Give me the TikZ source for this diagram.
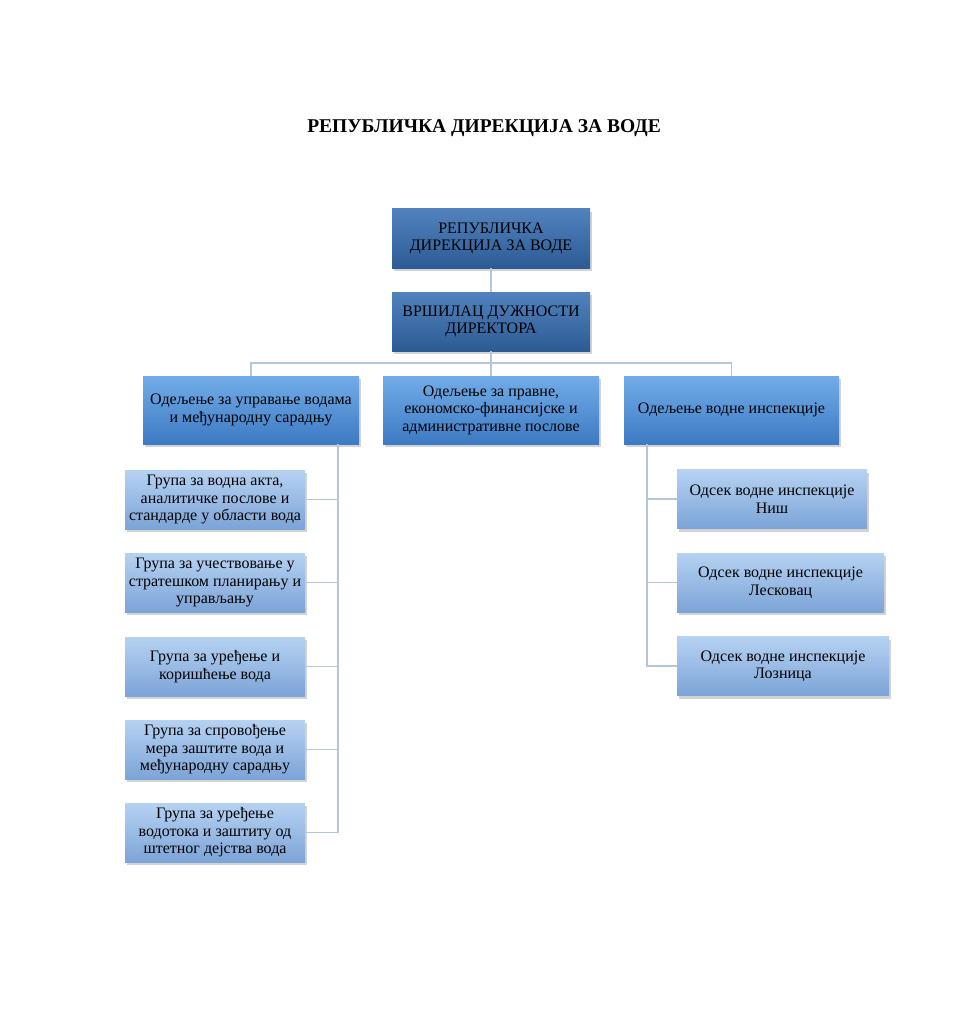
\documentclass[tikz,border=0pt]{standalone}
\usepackage{fontspec}
\setmainfont{Liberation Serif}
\usetikzlibrary{shadows}
\definecolor{lineblue}{HTML}{B4C6DA}
\definecolor{darktop}{HTML}{5282BE}
\definecolor{darkbot}{HTML}{2C5B94}
\definecolor{midtop}{HTML}{72ACE8}
\definecolor{midbot}{HTML}{3D7AC3}
\definecolor{lighttop}{HTML}{B6D2F2}
\definecolor{lightbot}{HTML}{7CA4D7}
\begin{document}
\begin{tikzpicture}
[x=1pt,y=-1pt,
box/.style = {rectangle, align=center, inner sep=0pt, font=\fontsize{16}{17.5}\selectfont,
  drop shadow={shadow xshift=1.5pt, shadow yshift=-3pt, opacity=0.35}},
topbox/.style = {box, top color=darktop, bottom color=darkbot, minimum width=198pt, minimum height=59pt},
depbox/.style = {box, top color=midtop, bottom color=midbot, minimum width=216pt, minimum height=68pt},
grpbox/.style = {box, top color=lighttop, bottom color=lightbot, minimum height=59pt},
conn/.style = {draw=lineblue, line width=1.2pt},]
\useasboundingbox (0,0) rectangle (967,1024);
\node (T) at (484,128) {\fontsize{19.5}{23}\selectfont\bfseries РЕПУБЛИЧКА ДИРЕКЦИЈА ЗА ВОДЕ};
\node (dir) at (491,238.5)[topbox] {РЕПУБЛИЧКА\\ДИРЕКЦИЈА ЗА ВОДЕ};
\node (vd) at (491,321.5)[topbox] {ВРШИЛАЦ ДУЖНОСТИ\\ДИРЕКТОРА};
\node (odU) at (251,410)[depbox] {Одељење за управање водама\\и међународну сарадњу};
\node (odP) at (491,410)[depbox] {Одељење за правне,\\економско-финансијске и\\административне послове};
\node (odI) at (731.5,410)[depbox,minimum width=215pt] {Одељење водне инспекције};
\node (g1) at (215,499.5)[grpbox,minimum width=180pt] {Група за водна акта,\\аналитичке послове и\\стандарде у области вода};
\node (g2) at (215,582.5)[grpbox,minimum width=180pt] {Група за учествовање у\\стратешком планирању и\\управљању};
\node (g3) at (215,666.5)[grpbox,minimum width=180pt] {Група за уређење и\\коришћење вода};
\node (g4) at (215,749.5)[grpbox,minimum width=180pt] {Група за спровођење\\мера заштите вода и\\међународну сарадњу};
\node (g5) at (215,832.5)[grpbox,minimum width=180pt] {Група за уређење\\водотока и заштиту од\\штетног дејства вода};
\node (o1) at (772,499)[grpbox,minimum width=190pt] {Одсек водне инспекције\\Ниш};
\node (o2) at (780.5,582.5)[grpbox,minimum width=207pt] {Одсек водне инспекције\\Лесковац};
\node (o3) at (783,666)[grpbox,minimum width=212pt] {Одсек водне инспекције\\Лозница};
\coordinate (bus) at (491,363);
\coordinate (lt) at (338,444);
\coordinate (rt) at (647,444);
\draw[conn] (dir)--(vd);
\draw[conn] (vd)--(odP);
\draw[conn] (odU.north) |- (bus) -| (odI.north);
\draw[conn] (lt) |- (g5.east);
\draw[conn] (g1.east)--(g1.east -| lt);
\draw[conn] (g2.east)--(g2.east -| lt);
\draw[conn] (g3.east)--(g3.east -| lt);
\draw[conn] (g4.east)--(g4.east -| lt);
\draw[conn] (rt) |- (o3.west);
\draw[conn] (o1.west)--(o1.west -| rt);
\draw[conn] (o2.west)--(o2.west -| rt);
\end{tikzpicture}
\end{document}
